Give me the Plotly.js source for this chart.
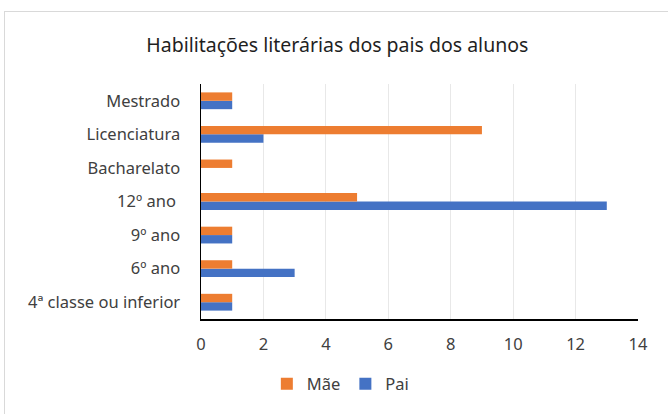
<!DOCTYPE html>
<html>
<head>
<meta charset="utf-8">
<script src="https://cdn.plot.ly/plotly-3.0.1.min.js"></script>
<style>
html,body{margin:0;padding:0;background:#fff;}
#frame{position:absolute;left:4px;top:11px;width:720px;height:440px;border:1px solid #d9d9d9;box-sizing:border-box;}
#chart{position:absolute;left:0;top:0;width:668px;height:414px;}
</style>
</head>
<body>
<div id="frame"></div>
<div id="chart"></div>
<script>
const categories = ["4ª classe ou inferior", "6º ano", "9º ano", "12º ano ", "Bacharelato", "Licenciatura", "Mestrado"];
const maeValues = [1, 1, 1, 5, 1, 9, 1];
const paiValues = [1, 3, 1, 13, 0, 2, 1];
const xTicks = [0, 2, 4, 6, 8, 10, 12, 14];

const font = "Noto Sans, sans-serif";
const traces = [
  {type: "bar", orientation: "h", name: "Pai", y: categories, x: paiValues,
   marker: {color: "#4472C4"}},
  {type: "bar", orientation: "h", name: "Mãe", y: categories, x: maeValues,
   marker: {color: "#ED7D31"}}
];
const layout = {
  width: 668, height: 414,
  paper_bgcolor: "rgba(0,0,0,0)", plot_bgcolor: "rgba(0,0,0,0)",
  margin: {l: 201, r: 30, t: 84, b: 95},
  barmode: "group", bargap: 0.5, bargroupgap: 0,
  title: {text: "Habilitações literárias dos pais dos alunos", x: 0.505, xanchor: "center", y: 0.89, yanchor: "middle",
          font: {family: font, size: 19.5, color: "#1f1f1f"}},
  xaxis: {range: [0, 14], tickvals: xTicks, ticktext: xTicks.map(String), showgrid: true, gridcolor: "#e8e8e8", gridwidth: 1,
          zeroline: false, showline: true, linecolor: "#000", linewidth: 1.5,
          ticks: "outside", ticklen: 10, tickcolor: "rgba(0,0,0,0)",
          tickfont: {family: font, size: 16.5, color: "#404040"}, fixedrange: true},
  yaxis: {type: "category", categoryorder: "array", categoryarray: categories, showline: true, linecolor: "#000", linewidth: 1.5,
          showgrid: false, zeroline: false, ticks: "outside", ticklen: 16, tickcolor: "rgba(0,0,0,0)",
          tickfont: {family: font, size: 16.5, color: "#404040"}, fixedrange: true},
  legend: {orientation: "h", x: 0.32, xanchor: "center", y: -0.277, yanchor: "middle", traceorder: "reversed",
           font: {family: font, size: 16.5, color: "#404040"}, itemwidth: 30},
  showlegend: true
};
Plotly.newPlot("chart", traces, layout, {displayModeBar: false, staticPlot: true});
</script>
</body>
</html>
